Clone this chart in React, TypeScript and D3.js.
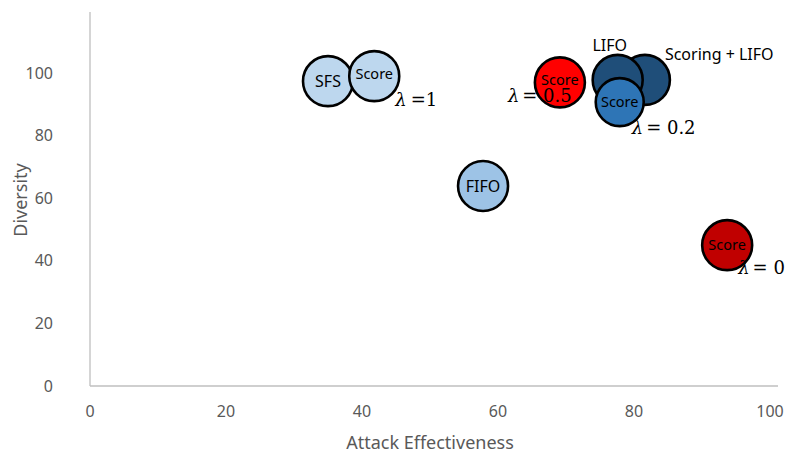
import React from "react";
import * as d3 from "d3";

const names = ["SFS", "Score (λ=1)", "FIFO", "Score (λ=0.5)", "Scoring + LIFO", "LIFO", "Score (λ=0.2)", "Score (λ=0)"];
const attack = [35, 41.8, 57.8, 69.1, 81.6, 77.6, 77.9, 93.7];
const diversity = [97.4, 99, 63.9, 97, 97.8, 97.8, 90.7, 45];
const innerLabels = ["SFS", "Score", "FIFO", "Score", "", "", "Score", "Score"];
const xTicks = [0, 20, 40, 60, 80, 100];
const yTicks = [0, 20, 40, 60, 80, 100];

// styles (kept separate from data)
const fills = ["#BDD7EE", "#BDD7EE", "#9DC3E6", "#FF0000", "#1F4E79", "#1F4E79", "#2E75B6", "#C00000"];
const radii = [25, 25, 25, 25, 25, 25, 24, 25];

// annotations: [series index, text, dx, dy, anchor, kind]
const annotations: [number, string, number, number, string, string][] = [
  [5, "LIFO", -8, -29, "middle", "sans"],
  [4, "Scoring + LIFO", 20, -20, "start", "sans"],
  [1, "=1", 21, 30, "start", "lam"],
  [3, "= 0.5", -52, 20, "start", "lam"],
  [6, "= 0.2", 12, 32, "start", "lam"],
  [7, "= 0", 11, 29, "start", "lam"],
];

const W = 792, H = 462;
const SANS = "'Noto Sans', 'Open Sans', sans-serif";
const SERIF = "'DejaVu Serif', 'Liberation Serif', serif";

export default function App() {
  const x = d3.scaleLinear().domain([0, 100]).range([90, 770]);
  const y = d3.scaleLinear().domain([0, 120]).range([386, 10.4]);
  const axisColor = "#BFBFBF";
  const tickColor = "#595959";

  return (
    <svg width={W} height={H} style={{ position: "absolute", left: 0, top: 0, background: "#fff" }}>
      <rect width={W} height={H} fill="#fff" />
      {/* axes */}
      <line x1={x(0)} x2={x(0)} y1={y(0)} y2={12} stroke={axisColor} strokeWidth={1.3} />
      <line x1={x(0)} x2={x(100) + 8} y1={y(0)} y2={y(0)} stroke={axisColor} strokeWidth={1.3} />
      {yTicks.map((t) => (
        <text key={"y" + t} x={53} y={y(t)} dy="0.35em" textAnchor="end" fontFamily={SANS} fontSize={16} fill={tickColor}>
          {t}
        </text>
      ))}
      {xTicks.map((t) => (
        <text key={"x" + t} x={x(t)} y={411} dy="0.35em" textAnchor="middle" fontFamily={SANS} fontSize={16} fill={tickColor}>
          {t}
        </text>
      ))}
      <text x={430} y={449} textAnchor="middle" fontFamily={SANS} fontSize={18} fill={tickColor}>
        Attack Effectiveness
      </text>
      <text transform={`translate(21,${200}) rotate(-90)`} textAnchor="middle" dy="0.35em" fontFamily={SANS} fontSize={18} fill={tickColor}>
        Diversity
      </text>

      {/* bubbles */}
      {names.map((n, i) => (
        <g key={n}>
          <circle cx={x(attack[i])} cy={y(diversity[i])} r={radii[i]} fill={fills[i]} stroke="#000" strokeWidth={2.6} />
          {innerLabels[i] && (
            <text
              x={x(attack[i])}
              y={y(diversity[i])}
              dy={i === 1 || i === 3 ? "0.2em" : "0.35em"}
              textAnchor="middle"
              fontFamily={SANS}
              fontSize={innerLabels[i] === "Score" ? 14.5 : 16}
              fill="#000"
            >
              {innerLabels[i]}
            </text>
          )}
        </g>
      ))}

      {/* annotations */}
      {annotations.map(([i, txt, dx, dy, anchor, kind], k) => {
        const ax = x(attack[i]) + dx;
        const ay = y(diversity[i]) + dy;
        if (kind === "sans") {
          return (
            <text key={k} x={ax} y={ay} textAnchor={anchor as any} fontFamily={SANS} fontSize={16} fill="#000">
              {txt}
            </text>
          );
        }
        return (
          <text key={k} x={ax} y={ay} textAnchor="start" fontFamily={SERIF} fontSize={18} fill="#000">
            <tspan fontStyle="italic">λ</tspan>
            <tspan dx={txt === "=1" ? 4 : 3}>{txt}</tspan>
          </text>
        );
      })}
    </svg>
  );
}
